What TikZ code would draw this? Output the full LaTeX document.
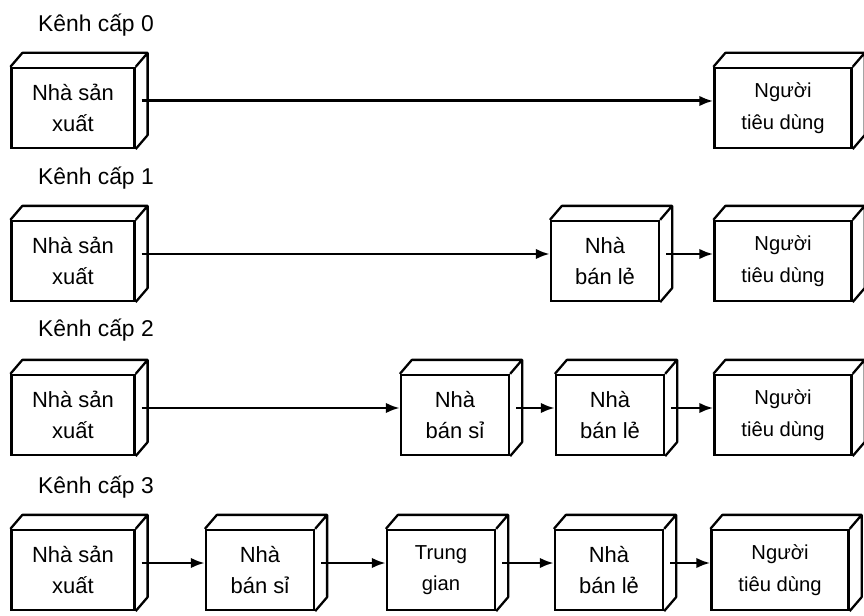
\documentclass[tikz,border=0pt]{standalone}
\usepackage{fontspec}
\setmainfont{Liberation Sans}
\usepackage{tikz}
\usetikzlibrary{arrows.meta}
\tikzset{
  >=Latex,
  firm/.style={draw,line width=1.3pt,fill=white,inner sep=0pt,align=center,
    minimum height=1.6cm,font=\fontsize{12.5}{18}\selectfont},
  maker/.style={firm,minimum width=2.46cm},
  mid/.style={firm,minimum width=2.16cm},
  buyer/.style={firm,minimum width=2.74cm,font=\fontsize{11.5}{18}\selectfont},
  face/.style={line width=1.3pt,line join=round},
  flow/.style={-{Latex[length=8pt,width=6pt]},line width=1.7pt},
  level/.style={anchor=base west,font=\fontsize{13}{15}\selectfont}
}

\begin{document}
\begin{tikzpicture}[x=0.02cm,y=0.02cm]
    \useasboundingbox (0,0) rectangle (864,615);
    % level 0
    \node[level] (t0) at (32,583) {Kênh cấp 0};
    \node[maker] (p0) at (73,507) {Nhà sản\\xuất};
    \node[buyer] (c0) at (783,507) {Người\\tiêu dùng};
    % level 1
    \node[level] (t1) at (32,430) {Kênh cấp 1};
    \node[maker] (p1) at (73,354) {Nhà sản\\xuất};
    \node[mid] (r1) at (605,354) {Nhà\\bán lẻ};
    \node[buyer] (c1) at (783,354) {Người\\tiêu dùng};
    % level 2
    \node[level] (t2) at (32,278) {Kênh cấp 2};
    \node[maker] (p2) at (73,200) {Nhà sản\\xuất};
    \node[mid] (w2) at (455,200) {Nhà\\bán sỉ};
    \node[mid] (r2) at (610,200) {Nhà\\bán lẻ};
    \node[buyer] (c2) at (783,200) {Người\\tiêu dùng};
    % level 3
    \node[level] (t3) at (32,122) {Kênh cấp 3};
    \node[maker] (p3) at (73,45) {Nhà sản\\xuất};
    \node[mid] (w3) at (260,45) {Nhà\\bán sỉ};
    \node[mid,font=\fontsize{11.5}{18}\selectfont] (m3) at (441,45) {Trung\\gian};
    \node[mid] (r3) at (609,45) {Nhà\\bán lẻ};
    \node[buyer] (c3) at (780,45) {Người\\tiêu dùng};
    % top and side of each box
    \foreach \n in {p0,c0,p1,r1,c1,p2,w2,r2,c2,p3,w3,m3,r3,c3}
      \draw[face] (\n.north west) -- ++(12,14) -| ([shift={(12,14)}]\n.south east) -- (\n.south east)
        (\n.north east) -- ++(12,14);
    \draw[flow] ([shift={(6,7)}]p0.east) -- ([shift={(0,7)}]c0.west);
    \draw[flow] ([shift={(6,7)}]p1.east) -- ([shift={(0,7)}]r1.west);
    \draw[flow] ([shift={(6,7)}]r1.east) -- ([shift={(0,7)}]c1.west);
    \draw[flow] ([shift={(6,7)}]p2.east) -- ([shift={(0,7)}]w2.west);
    \draw[flow] ([shift={(6,7)}]w2.east) -- ([shift={(0,7)}]r2.west);
    \draw[flow] ([shift={(6,7)}]r2.east) -- ([shift={(0,7)}]c2.west);
    \draw[flow] ([shift={(6,7)}]p3.east) -- ([shift={(0,7)}]w3.west);
    \draw[flow] ([shift={(6,7)}]w3.east) -- ([shift={(0,7)}]m3.west);
    \draw[flow] ([shift={(6,7)}]m3.east) -- ([shift={(0,7)}]r3.west);
    \draw[flow] ([shift={(6,7)}]r3.east) -- ([shift={(0,7)}]c3.west);
  \end{tikzpicture}
\end{document}
